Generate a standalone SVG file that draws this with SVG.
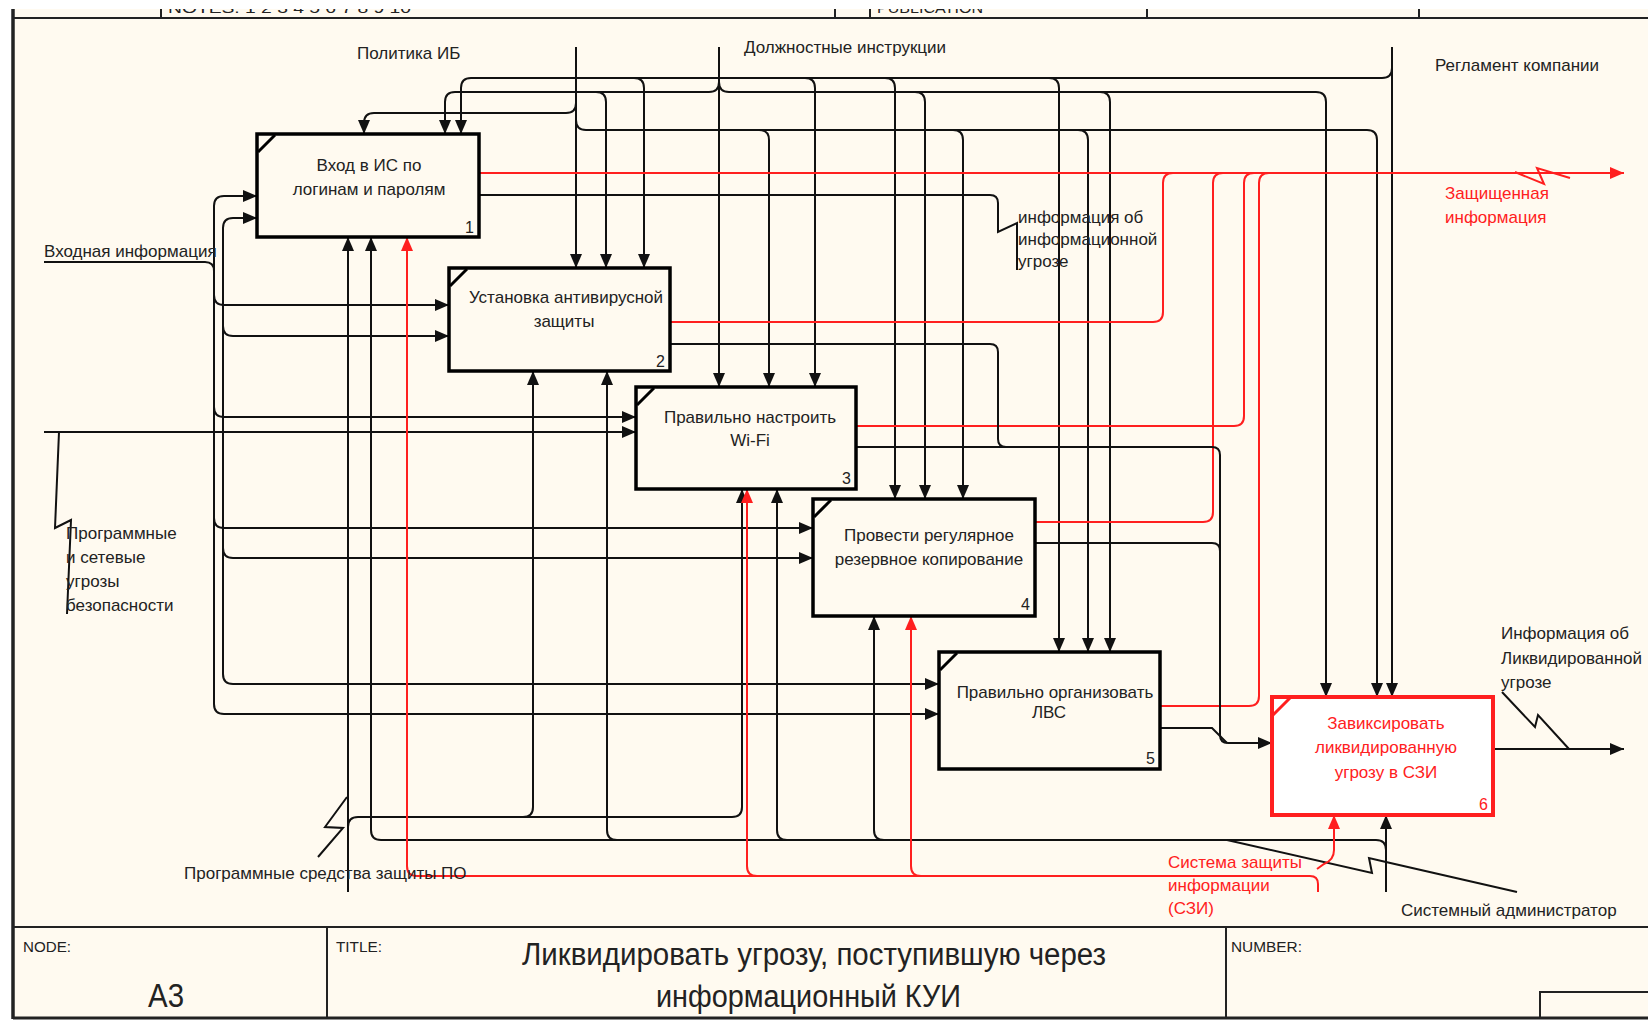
<svg xmlns="http://www.w3.org/2000/svg" width="1648" height="1021" viewBox="0 0 1648 1021">
<defs>
<marker id="ab" viewBox="0 0 14 12" refX="14" refY="6" markerWidth="14" markerHeight="12" markerUnits="userSpaceOnUse" orient="auto"><path d="M0,0 L14,6 L0,12 Z" fill="#111"/></marker>
<marker id="ar" viewBox="0 0 14 12" refX="14" refY="6" markerWidth="14" markerHeight="12" markerUnits="userSpaceOnUse" orient="auto"><path d="M0,0 L14,6 L0,12 Z" fill="#ff1f1f"/></marker>
<clipPath id="hdr"><rect x="0" y="9" width="1648" height="9"/></clipPath>
</defs>
<style>
.c{fill:none;stroke:#111;stroke-width:2}
.r{fill:none;stroke:#ff1f1f;stroke-width:2}
.box{fill:#fffaf0;stroke:#000;stroke-width:3.5}
.tab{stroke:#000;stroke-width:3}
.t{font-family:"Liberation Sans",Arial,sans-serif;font-size:17px;fill:#222}
.m{text-anchor:middle}
.rt{fill:#ff2020}
.num{font-size:16px;text-anchor:end}
.fr{fill:none;stroke:#222;stroke-width:2}
.sm{font-size:15px}
</style>
<rect x="0" y="0" width="1648" height="1021" fill="#ffffff"/>
<rect x="14" y="9" width="1634" height="1010" fill="#fffaf0"/>
<g id="frame">
<line class="fr" x1="13" y1="9" x2="13" y2="1019" style="stroke-width:3.5"/>
<line class="fr" x1="13" y1="18" x2="1648" y2="18"/>
<line class="fr" x1="161" y1="9" x2="161" y2="18"/>
<line class="fr" x1="835" y1="9" x2="835" y2="18"/>
<line class="fr" x1="870" y1="9" x2="870" y2="18"/>
<line class="fr" x1="1147" y1="9" x2="1147" y2="18"/>
<line class="fr" x1="1419" y1="9" x2="1419" y2="18"/>
<g clip-path="url(#hdr)">
<text class="t sm" x="168" y="12.5" textLength="243" lengthAdjust="spacingAndGlyphs">NOTES:  1  2  3  4  5  6  7  8  9  10</text>
<text class="t sm" x="877" y="12.5" textLength="106" lengthAdjust="spacingAndGlyphs">PUBLICATION</text>
</g>
<line class="fr" x1="13" y1="927" x2="1648" y2="927"/>
<line class="fr" x1="13" y1="1018" x2="1648" y2="1018" style="stroke-width:3"/>
<line class="fr" x1="327" y1="927" x2="327" y2="1018"/>
<line class="fr" x1="1226" y1="927" x2="1226" y2="1018"/>
<polyline class="fr" points="1540,1018 1540,992 1648,992"/>
<text class="t sm" x="23" y="952" textLength="48" lengthAdjust="spacingAndGlyphs">NODE:</text>
<text class="t sm" x="336" y="952" textLength="46" lengthAdjust="spacingAndGlyphs">TITLE:</text>
<text class="t sm" x="1231" y="952" textLength="71" lengthAdjust="spacingAndGlyphs">NUMBER:</text>
<text class="t" x="148" y="1007" style="font-size:34px" textLength="36" lengthAdjust="spacingAndGlyphs">A3</text>
<text class="t" x="522" y="965" style="font-size:31px" textLength="584" lengthAdjust="spacingAndGlyphs">Ликвидировать угрозу, поступившую через</text>
<text class="t" x="656" y="1007" style="font-size:31px" textLength="305" lengthAdjust="spacingAndGlyphs">информационный КУИ</text>
</g>
<g id="connectors">
<!-- controls: Политика ИБ -->
<path class="c" d="M576,47 V268" marker-end="url(#ab)"/>
<path class="c" d="M576,103 Q576,113 566,113 H374 Q364,113 364,123 V134" marker-end="url(#ab)"/>
<path class="c" d="M576,120 Q576,130 586,130 H1367 Q1377,130 1377,140 V697" marker-end="url(#ab)"/>
<path class="c" d="M759,130 Q769,130 769,140 V387" marker-end="url(#ab)"/>
<path class="c" d="M953,130 Q963,130 963,140 V499" marker-end="url(#ab)"/>
<path class="c" d="M1078,130 Q1088,130 1088,140 V652" marker-end="url(#ab)"/>
<!-- Должностные инструкции -->
<path class="c" d="M719,47 V387" marker-end="url(#ab)"/>
<path class="c" d="M719,82 Q719,92 709,92 H455 Q445,92 445,102 V134" marker-end="url(#ab)"/>
<path class="c" d="M596,92 Q606,92 606,102 V268" marker-end="url(#ab)"/>
<path class="c" d="M719,82 Q719,92 729,92 H1316 Q1326,92 1326,102 V697" marker-end="url(#ab)"/>
<path class="c" d="M915,92 Q925,92 925,102 V499" marker-end="url(#ab)"/>
<path class="c" d="M1100,92 Q1110,92 1110,102 V652" marker-end="url(#ab)"/>
<!-- Регламент компании -->
<path class="c" d="M1392,47 V697" marker-end="url(#ab)"/>
<path class="c" d="M1392,68 Q1392,78 1382,78 H471 Q461,78 461,88 V134" marker-end="url(#ab)"/>
<path class="c" d="M634,78 Q644,78 644,88 V268" marker-end="url(#ab)"/>
<path class="c" d="M805,78 Q815,78 815,88 V387" marker-end="url(#ab)"/>
<path class="c" d="M885,78 Q895,78 895,88 V499" marker-end="url(#ab)"/>
<path class="c" d="M1049,78 Q1059,78 1059,88 V652" marker-end="url(#ab)"/>
<!-- outputs red -->
<path class="r" d="M479,173 H1624" marker-end="url(#ar)"/>
<path class="r" d="M670,322 H1153 Q1163,322 1163,312 V183 Q1163,173 1173,173"/>
<path class="r" d="M856,426 H1234 Q1244,426 1244,416 V183 Q1244,173 1254,173"/>
<path class="r" d="M1035,522 H1203 Q1213,522 1213,512 V183 Q1213,173 1223,173"/>
<path class="r" d="M1160,706 H1249 Q1259,706 1259,696 V183 Q1259,173 1269,173"/>
<path class="r" d="M1515,172 L1544,184 L1537,168 L1570,178"/>
<!-- outputs black -->
<path class="c" d="M479,195 H990 Q998,195 998,203 V232 L1017,223 V270"/>
<path class="c" d="M670,344 H990 Q998,344 998,352 V439 Q998,447 1006,447"/>
<path class="c" d="M856,447 H1212 Q1220,447 1220,455 V735 Q1220,743 1228,743 H1272" marker-end="url(#ab)"/>
<path class="c" d="M1035,543 H1212 Q1220,543 1220,551"/>
<path class="c" d="M1160,728 H1212 L1227,743"/>
<path class="c" d="M1493,749 H1624" marker-end="url(#ab)"/>
<path class="c" d="M1502,692 L1535,727 L1538,715 L1569,749"/>
<!-- inputs -->
<path class="c" d="M44,262 H205 Q214,262 214,271"/>
<path class="c" d="M214,206 V704"/>
<path class="c" d="M223,228 V674"/>
<path class="c" d="M214,206 Q214,196 224,196 H257" marker-end="url(#ab)"/>
<path class="c" d="M214,295 Q214,305 224,305 H449" marker-end="url(#ab)"/>
<path class="c" d="M214,407 Q214,417 224,417 H636" marker-end="url(#ab)"/>
<path class="c" d="M214,518 Q214,528 224,528 H813" marker-end="url(#ab)"/>
<path class="c" d="M214,704 Q214,714 224,714 H939" marker-end="url(#ab)"/>
<path class="c" d="M223,228 Q223,218 233,218 H257" marker-end="url(#ab)"/>
<path class="c" d="M223,326 Q223,336 233,336 H449" marker-end="url(#ab)"/>
<path class="c" d="M223,548 Q223,558 233,558 H813" marker-end="url(#ab)"/>
<path class="c" d="M223,674 Q223,684 233,684 H939" marker-end="url(#ab)"/>
<path class="c" d="M44,432 H636" marker-end="url(#ab)"/>
<path class="c" d="M59,432 L55,528 L71,520 L67,614"/>
<!-- mechanisms: Программные средства защиты ПО -->
<path class="c" d="M348,892 V237" marker-end="url(#ab)"/>
<path class="c" d="M348,827 Q348,817 358,817 H732 Q742,817 742,807 V489" marker-end="url(#ab)"/>
<path class="c" d="M523,817 Q533,817 533,807 V371" marker-end="url(#ab)"/>
<path class="c" d="M318,857 L343,828 L325,827 L347,797"/>
<!-- Системный администратор -->
<path class="c" d="M1386,892 V815" marker-end="url(#ab)"/>
<path class="c" d="M1386,850 Q1386,840 1376,840 H381 Q371,840 371,830 V237" marker-end="url(#ab)"/>
<path class="c" d="M617,840 Q607,840 607,830 V371" marker-end="url(#ab)"/>
<path class="c" d="M787,840 Q777,840 777,830 V489" marker-end="url(#ab)"/>
<path class="c" d="M884,840 Q874,840 874,830 V616" marker-end="url(#ab)"/>
<path class="c" d="M1227,840 L1372,873 L1369,858 L1386,862 L1517,892"/>
<!-- СЗИ -->
<path class="r" d="M1318,892 V884 Q1318,876 1310,876 H417 Q407,876 407,866 V237" marker-end="url(#ar)"/>
<path class="r" d="M757,876 Q747,876 747,866 V489" marker-end="url(#ar)"/>
<path class="r" d="M921,876 Q911,876 911,866 V616" marker-end="url(#ar)"/>
<path class="r" d="M1317,869 L1324,864 Q1334,860 1334,850 V815" marker-end="url(#ar)"/>
</g>
<g id="box1">
<rect class="box" x="257" y="134" width="222" height="103"/>
<line class="tab" x1="258" y1="152" x2="275" y2="135"/>
<text class="t m" x="369" y="171">Вход в ИС по</text>
<text class="t m" x="369" y="195">логинам и паролям</text>
<text class="t num" x="474" y="233">1</text>
</g>
<g id="box2">
<rect class="box" x="449" y="268" width="221" height="103"/>
<line class="tab" x1="450" y1="286" x2="467" y2="269"/>
<text class="t m" x="566" y="303">Установка антивирусной</text>
<text class="t m" x="564" y="327">защиты</text>
<text class="t num" x="665" y="367">2</text>
</g>
<g id="box3">
<rect class="box" x="636" y="387" width="220" height="102"/>
<line class="tab" x1="637" y1="405" x2="654" y2="388"/>
<text class="t m" x="750" y="423">Правильно настроить</text>
<text class="t m" x="750" y="446">Wi-Fi</text>
<text class="t num" x="851" y="484">3</text>
</g>
<g id="box4">
<rect class="box" x="813" y="499" width="222" height="117"/>
<line class="tab" x1="814" y1="517" x2="831" y2="500"/>
<text class="t m" x="929" y="541">Провести регулярное</text>
<text class="t m" x="929" y="565">резервное копирование</text>
<text class="t num" x="1030" y="610">4</text>
</g>
<g id="box5">
<rect class="box" x="939" y="652" width="221" height="117"/>
<line class="tab" x1="940" y1="670" x2="957" y2="653"/>
<text class="t m" x="1055" y="698">Правильно организовать</text>
<text class="t m" x="1049" y="718">ЛВС</text>
<text class="t num" x="1155" y="764">5</text>
</g>
<g id="box6">
<rect x="1272" y="697" width="221" height="118" fill="#ffffff" stroke="#ff1f1f" stroke-width="4"/>
<line x1="1273" y1="715" x2="1290" y2="698" stroke="#ff1f1f" stroke-width="3"/>
<text class="t m rt" x="1386" y="729">Завиксировать</text>
<text class="t m rt" x="1386" y="753">ликвидированную</text>
<text class="t m rt" x="1386" y="778">угрозу в СЗИ</text>
<text class="t num rt" x="1488" y="810">6</text>
</g>
<g id="labels">
<text class="t" x="357" y="59">Политика ИБ</text>
<text class="t" x="744" y="53">Должностные инструкции</text>
<text class="t" x="1435" y="71">Регламент компании</text>
<text class="t rt" x="1445" y="199">Защищенная</text>
<text class="t rt" x="1445" y="223">информация</text>
<text class="t" x="1018" y="223">информация об</text>
<text class="t" x="1018" y="245">информационной</text>
<text class="t" x="1018" y="267">угрозе</text>
<text class="t" x="44" y="257">Входная информация</text>
<text class="t" x="66" y="539">Программные</text>
<text class="t" x="66" y="563">и сетевые</text>
<text class="t" x="66" y="587">угрозы</text>
<text class="t" x="66" y="611">безопасности</text>
<text class="t" x="184" y="879">Программные средства защиты ПО</text>
<text class="t rt" x="1168" y="868">Система защиты</text>
<text class="t rt" x="1168" y="891">информации</text>
<text class="t rt" x="1168" y="914">(СЗИ)</text>
<text class="t" x="1401" y="916">Системный администратор</text>
<text class="t" x="1501" y="639">Информация об</text>
<text class="t" x="1501" y="664">Ликвидированной</text>
<text class="t" x="1501" y="688">угрозе</text>
</g>
</svg>
